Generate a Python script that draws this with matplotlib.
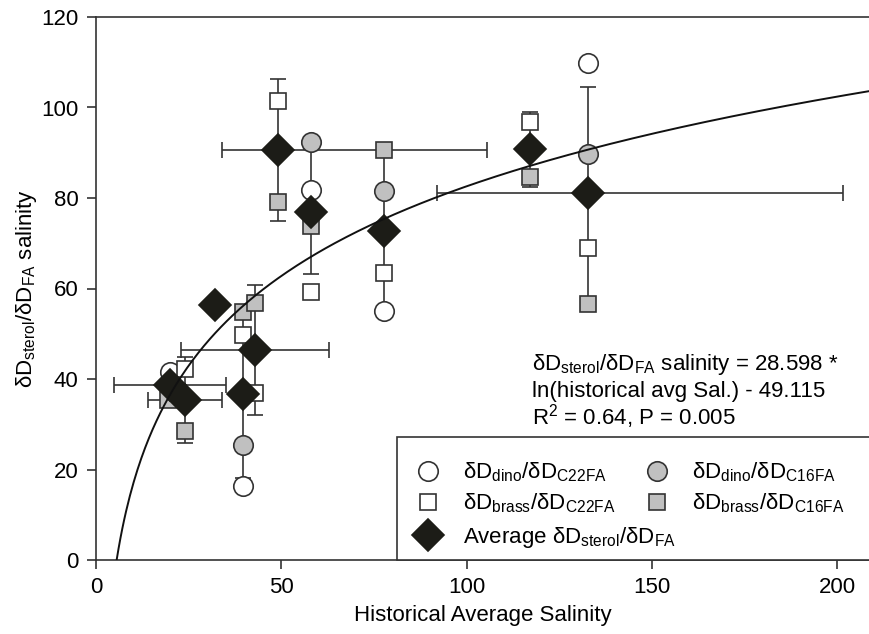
import numpy as np
import matplotlib
matplotlib.use("Agg")
import matplotlib.pyplot as plt
from matplotlib.patches import Rectangle

plt.rcParams["font.family"] = ["Liberation Sans", "DejaVu Sans"]
plt.rcParams["mathtext.fontset"] = "custom"
plt.rcParams["mathtext.rm"] = "Liberation Sans"
plt.rcParams["mathtext.it"] = "Liberation Sans:italic"
plt.rcParams["mathtext.bf"] = "Liberation Sans:bold"

# ============================================
# Data
# ============================================

# average sterol/FA salinity per site
avg_x    = [20.0, 24.0, 32.0, 39.6, 43.0, 49.0, 58.0, 77.6, 117.0, 132.7]
avg_y    = [38.7, 35.4, 56.4, 36.6, 46.4, 90.6, 77.0, 72.6, 90.8, 81.2]
xerr_lo  = [15.1, 10.0, 0.0, 0.0, 20.0, 15.0, 0.0, 0.0, 0.0, 40.8]
xerr_hi  = [15.1, 10.0, 0.0, 0.0, 20.0, 56.5, 0.0, 0.0, 0.0, 69.0]
yerr     = [0.0, 9.5, 0.0, 18.5, 14.3, 15.7, 13.85, 17.6, 8.3, 23.3]

# dino / C22FA (open circles)
dino_c22_x = [20.0, 39.6, 58.0, 77.6, 132.7]
dino_c22_y = [41.6, 16.4, 81.8, 55.0, 109.8]

# dino / C16FA (grey circles)
dino_c16_x = [39.6, 58.0, 77.6, 132.7]
dino_c16_y = [25.4, 92.4, 81.6, 89.7]

# brass / C22FA (open squares)
brass_c22_x = [24.0, 39.6, 43.0, 49.0, 58.0, 77.6, 117.0, 132.7]
brass_c22_y = [42.1, 49.7, 36.8, 101.5, 59.3, 63.4, 96.9, 68.9]

# brass / C16FA (grey squares)
brass_c16_x = [19.5, 24.0, 39.6, 43.0, 49.0, 58.0, 77.6, 117.0, 132.7]
brass_c16_y = [35.4, 28.6, 54.7, 56.7, 79.2, 73.9, 90.6, 84.7, 56.6]

# log fit: y = A * ln(x) + B
FIT_A = 28.598
FIT_B = -49.115

# ============================================
# Style
# ============================================

FS      = 16
EDGE    = "#333333"
GREY    = "#c0c0c0"
BLACK   = "#1c1c17"
LW      = 1.2

fig = plt.figure(figsize=(8.69, 6.34), dpi=100)
ax = fig.add_axes([96 / 869, 74 / 634, 773 / 869, 543 / 634])

# error bars behind markers
ax.errorbar(avg_x, avg_y, xerr=[xerr_lo, xerr_hi], yerr=yerr, fmt="none",
            ecolor=EDGE, elinewidth=LW, capsize=6, capthick=LW, zorder=2)

h_oc, = ax.plot(dino_c22_x, dino_c22_y, ls="none", marker="o", ms=14,
                mfc="white", mec=EDGE, mew=LW, zorder=3,
                label=r"δD$_\mathrm{dino}$/δD$_\mathrm{C22FA}$")
h_gc, = ax.plot(dino_c16_x, dino_c16_y, ls="none", marker="o", ms=14,
                mfc=GREY, mec=EDGE, mew=LW, zorder=3,
                label=r"δD$_\mathrm{dino}$/δD$_\mathrm{C16FA}$")
h_os, = ax.plot(brass_c22_x, brass_c22_y, ls="none", marker="s", ms=12,
                mfc="white", mec=EDGE, mew=LW, zorder=3,
                label=r"δD$_\mathrm{brass}$/δD$_\mathrm{C22FA}$")
h_gs, = ax.plot(brass_c16_x, brass_c16_y, ls="none", marker="s", ms=12,
                mfc=GREY, mec=EDGE, mew=LW, zorder=3,
                label=r"δD$_\mathrm{brass}$/δD$_\mathrm{C16FA}$")
h_avg, = ax.plot(avg_x, avg_y, ls="none", marker="D", ms=16,
                 mfc=BLACK, mec=BLACK, mew=LW, zorder=4,
                 label=r"Average δD$_\mathrm{sterol}$/δD$_\mathrm{FA}$")

# fitted curve
x_fit = np.linspace(np.exp(-FIT_B / FIT_A), 210, 400)
ax.plot(x_fit, FIT_A * np.log(x_fit) + FIT_B, color="#111111", lw=1.4, zorder=5)

# ============================================
# Axes
# ============================================

ax.set_xlim(0, 208.6)
ax.set_ylim(0, 120)
ax.set_xticks([0, 50, 100, 150, 200])
ax.set_yticks([0, 20, 40, 60, 80, 100, 120])
ax.spines["right"].set_visible(False)
for s in ["left", "top", "bottom"]:
    ax.spines[s].set_linewidth(LW)
    ax.spines[s].set_color(EDGE)
ax.tick_params(direction="out", length=6.5, width=LW, color=EDGE,
               labelsize=FS, pad=6)
ax.tick_params(axis="y", right=False)
ax.set_xlabel("Historical Average Salinity", fontsize=FS, labelpad=5)
ax.set_ylabel(r"δD$_\mathrm{sterol}$/δD$_\mathrm{FA}$ salinity", fontsize=FS,
              labelpad=2)

# equation text
eq_x = 0.5637
ax.text(eq_x, 0.350, r"δD$_\mathrm{sterol}$/δD$_\mathrm{FA}$ salinity = 28.598 *",
        transform=ax.transAxes, fontsize=FS, va="baseline")
ax.text(eq_x, 0.300, "ln(historical avg Sal.) - 49.115",
        transform=ax.transAxes, fontsize=FS, va="baseline")
ax.text(eq_x, 0.249, r"R$^\mathrm{2}$ = 0.64, P = 0.005",
        transform=ax.transAxes, fontsize=FS, va="baseline")

# ============================================
# Legend (framed box, two legends inside)
# ============================================

box = Rectangle((0.389, 0.0), 0.7, 0.2265, transform=ax.transAxes,
                facecolor="white", edgecolor=EDGE, lw=LW, clip_on=False,
                zorder=6)
ax.add_patch(box)

leg1 = ax.legend(handles=[h_oc, h_os, h_gc, h_gs], ncol=2, frameon=False,
                 loc="center left", bbox_to_anchor=(0.409, 0.1326),
                 borderpad=0, borderaxespad=0, handlelength=1.4,
                 handletextpad=0.88, columnspacing=1.15, labelspacing=0.35,
                 fontsize=FS)
leg1.set_zorder(7)
ax.add_artist(leg1)

leg2 = ax.legend(handles=[h_avg], frameon=False, loc="center left",
                 bbox_to_anchor=(0.409, 0.042), borderpad=0, borderaxespad=0,
                 handlelength=1.4, handletextpad=0.88, fontsize=FS)
leg2.set_zorder(7)

fig.savefig("out.png", dpi=100)
